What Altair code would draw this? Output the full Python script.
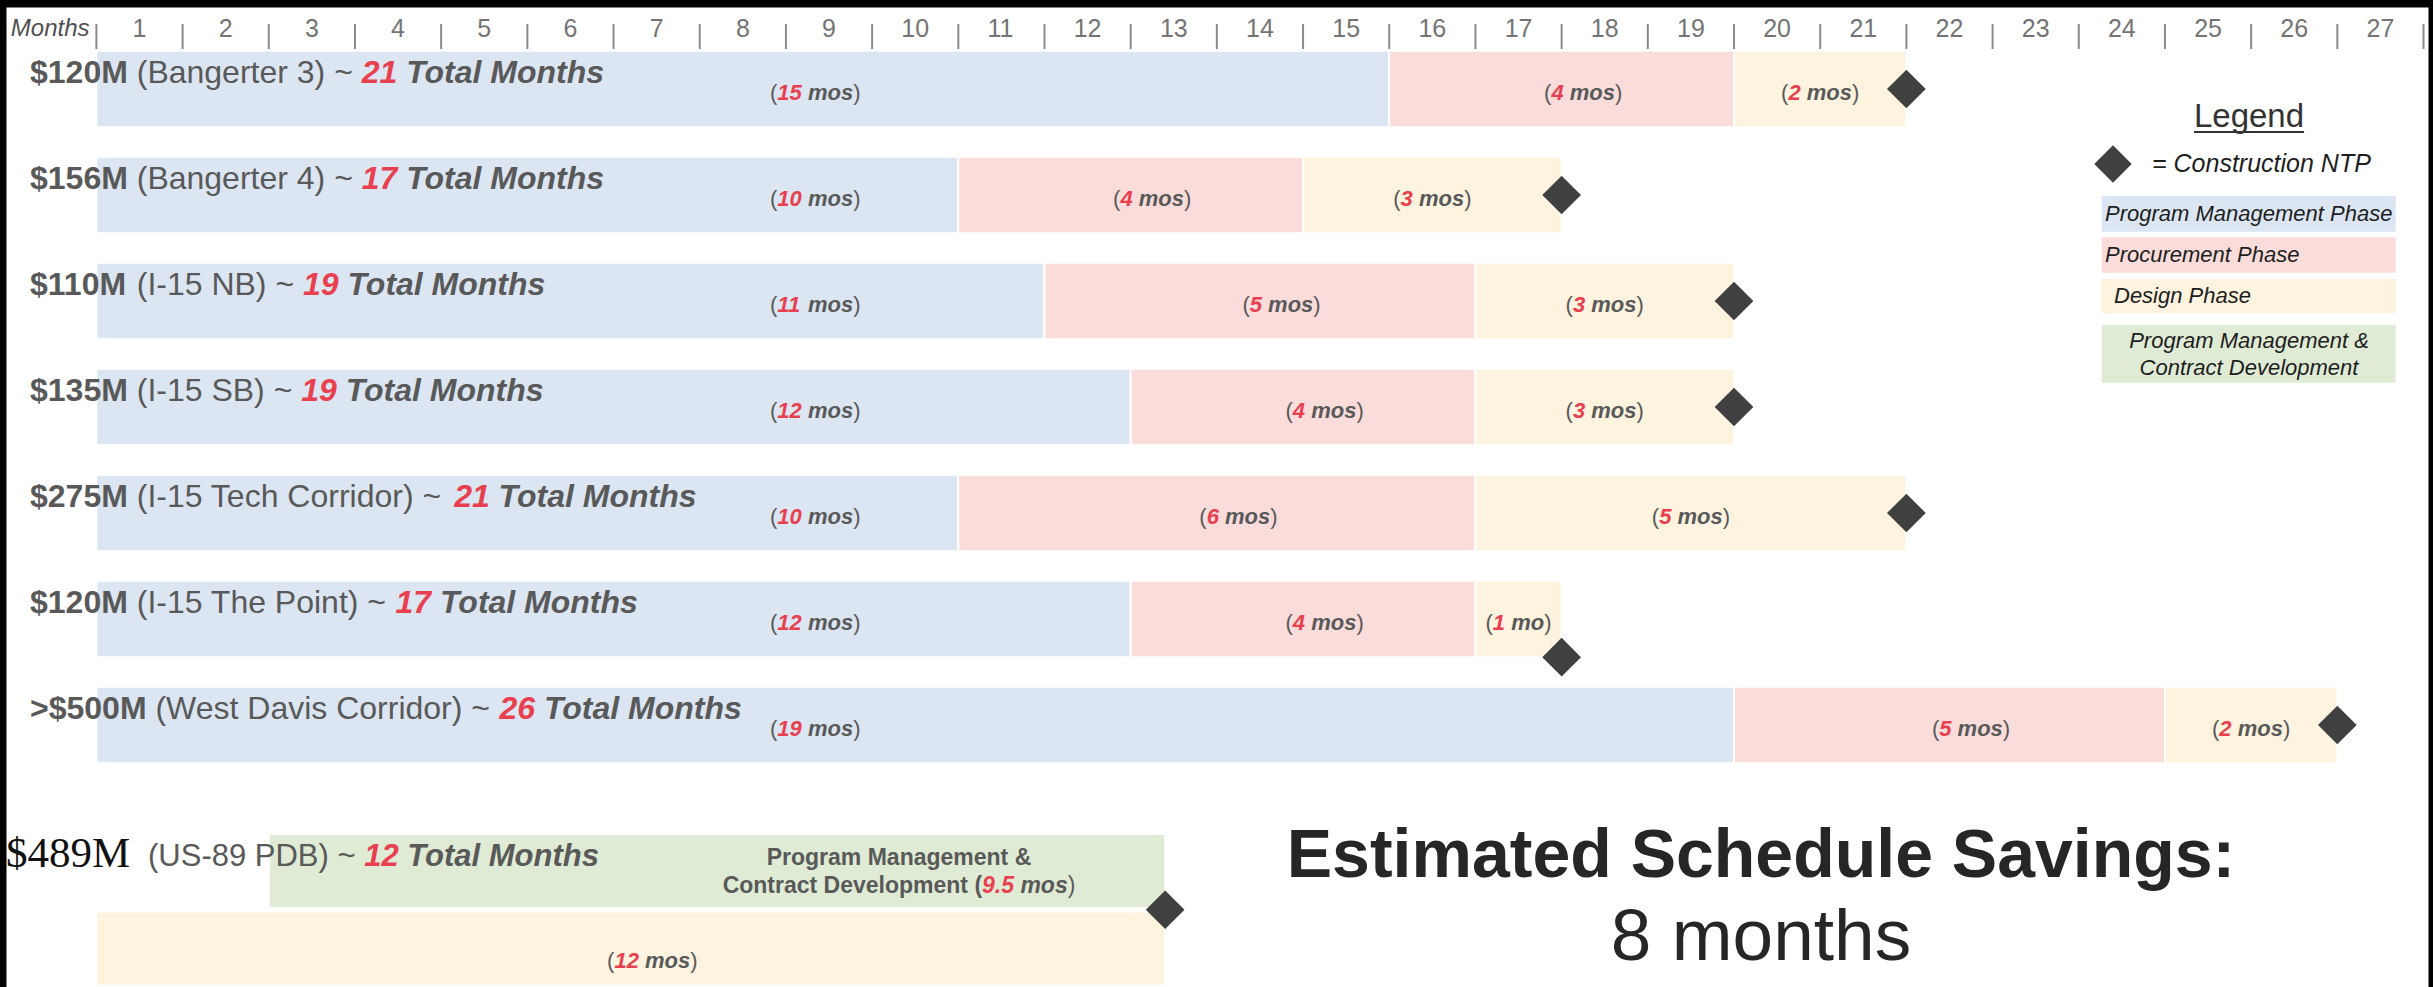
import altair as alt
import pandas as pd

# ---------------- data ----------------
costs = ["$120M", "$156M", "$110M", "$135M", "$275M", "$120M", ">$500M"]
names = ["(Bangerter 3)", "(Bangerter 4)", "(I-15 NB)", "(I-15 SB)",
         "(I-15 Tech Corridor)", "(I-15 The Point)", "(West Davis Corridor)"]
total_months = [21, 17, 19, 19, 21, 17, 26]
pm_months = [15, 10, 11, 12, 10, 12, 19]        # Program Management Phase
proc_months = [4, 4, 5, 4, 6, 4, 5]             # Procurement Phase
design_months = [2, 3, 3, 3, 5, 1, 2]           # Design Phase

pdb_cost = "$489M"
pdb_name = "(US-89 PDB)"
pdb_total = 12
pdb_green_span = [2.0, 12.4]      # Program Management & Contract Development
pdb_green_label = 9.5
pdb_yellow_span = [0.0, 12.4]     # Design
pdb_yellow_label = 12

month_ticks = list(range(0, 28))
month_labels = [str(m) for m in range(1, 28)]

phase_names = ["Program Management Phase", "Procurement Phase", "Design Phase",
               "Program Management &", "Contract Development"]
phase_colors = ["#dce6f2", "#fadcdb", "#fdf3df", "#e0ebd6"]

savings_title = "Estimated Schedule Savings:"
savings_value = "8 months"

# ---------------- styling / layout ----------------
RED = "#e8404f"
GRAY = "#595959"
AXGRAY = "#747474"
DARK = "#1e1e1e"
DIAMOND = "#404040"

W_PLOT, H_PLOT = 2422, 980
PAD = {"left": 6, "top": 7, "right": 5, "bottom": 0}
PPM = 86.19     # pixels per month
X0 = 90.4       # plot px of month 0
RPX = 106.0     # pixels per row
Y0 = 82.0       # plot px of the first row centre
HALF = 0.36     # half bar height in row units


def mx(px):
    return (px - PAD["left"] - X0) / PPM


def ry(py):
    return (py - PAD["top"] - Y0) / RPX


X_DOMAIN = [mx(PAD["left"]), mx(PAD["left"] + W_PLOT)]
Y_DOMAIN = [ry(PAD["top"]), ry(PAD["top"] + H_PLOT)]
xs = alt.Scale(domain=X_DOMAIN, nice=False, zero=False)
ys = alt.Scale(domain=Y_DOMAIN, nice=False, zero=False, reverse=True)

# Arial / Liberation Sans advance widths (1/1000 em)
REG = {' ': 278, '$': 556, '&': 667, '(': 333, ')': 333, '-': 333, '.': 278, ':': 278,
       '=': 584, '>': 584, '~': 584,
       'A': 667, 'B': 667, 'C': 722, 'D': 722, 'E': 667, 'F': 611, 'G': 778, 'H': 722,
       'I': 278, 'J': 500, 'K': 667, 'L': 556, 'M': 833, 'N': 722, 'O': 778, 'P': 667,
       'Q': 778, 'R': 722, 'S': 667, 'T': 611, 'U': 722, 'V': 667, 'W': 944, 'X': 667,
       'Y': 667, 'Z': 611,
       'a': 556, 'b': 556, 'c': 500, 'd': 556, 'e': 556, 'f': 278, 'g': 556, 'h': 556,
       'i': 222, 'j': 222, 'k': 500, 'l': 222, 'm': 833, 'n': 556, 'o': 556, 'p': 556,
       'q': 556, 'r': 333, 's': 500, 't': 278, 'u': 556, 'v': 500, 'w': 722, 'x': 500,
       'y': 500, 'z': 500}
BOLD = {' ': 278, '$': 556, '&': 722, '(': 333, ')': 333, '-': 333, '.': 278, ':': 333,
        '=': 584, '>': 584, '~': 584,
        'A': 722, 'B': 722, 'C': 722, 'D': 722, 'E': 667, 'F': 611, 'G': 778, 'H': 722,
        'I': 278, 'J': 556, 'K': 722, 'L': 611, 'M': 833, 'N': 722, 'O': 778, 'P': 667,
        'Q': 778, 'R': 722, 'S': 667, 'T': 611, 'U': 722, 'V': 667, 'W': 944, 'X': 667,
        'Y': 667, 'Z': 611,
        'a': 556, 'b': 611, 'c': 556, 'd': 611, 'e': 556, 'f': 333, 'g': 611, 'h': 611,
        'i': 278, 'j': 278, 'k': 556, 'l': 278, 'm': 889, 'n': 611, 'o': 611, 'p': 611,
        'q': 611, 'r': 389, 's': 556, 't': 333, 'u': 611, 'v': 556, 'w': 778, 'x': 556,
        'y': 556, 'z': 500}
TIMES = {'$': 500, 'M': 889, ' ': 250}


def text_w(s, style, size):
    if style == "serif":
        tbl, dflt = TIMES, 500
    elif style in ("bold", "bolditalic"):
        tbl, dflt = BOLD, 556
    else:
        tbl, dflt = REG, 556
    return sum(tbl.get(c, dflt) for c in s) * size / 1000.0


texts = []


def run(pieces, x, y, size, anchor="left"):
    widths = [text_w(t, st, size) for t, st, _ in pieces]
    total = sum(widths) / PPM
    if anchor == "center":
        cur = x - total / 2
    elif anchor == "right":
        cur = x - total
    else:
        cur = x
    for (t, st, col), w in zip(pieces, widths):
        lead = len(t) - len(t.lstrip(" "))
        shown = t.strip(" ")
        if shown:
            texts.append(dict(x=cur + text_w(" " * lead, st, size) / PPM, y=y,
                              text=shown, color=col, size=size, style=st))
        cur += w / PPM
    return total


def mos_label(n):
    unit = "mo" if n == 1 else "mos"
    return [("(", "regular", GRAY), (f"{n:g}", "bolditalic", RED),
            (" " + unit, "bolditalic", GRAY), (")", "regular", GRAY)]


# ---------------- bars, labels, diamonds ----------------
bars, diamonds = [], []
LBL = 22
for i in range(len(costs)):
    s1 = pm_months[i]
    s2 = s1 + proc_months[i]
    s3 = s2 + design_months[i]
    for a, b, c in [(0, s1, 0), (s1, s2, 1), (s2, s3, 2)]:
        bars.append(dict(x=a, x2=b, y=i - HALF, y2=i + HALF, fill=phase_colors[c]))
    # row title
    run([(costs[i], "bold", GRAY), (" " + names[i] + " ~ ", "regular", GRAY),
         (str(total_months[i]), "bolditalic", RED), (" Total Months", "bolditalic", GRAY)],
        mx(30), i - 6 / RPX, 32)
    # duration labels
    ly = i + 11 / RPX
    run(mos_label(pm_months[i]), mx(770), ly, LBL)
    run(mos_label(proc_months[i]), (s1 + s2) / 2 + 0.25, ly, LBL, "center")
    run(mos_label(design_months[i]), (s2 + s3) / 2, ly, LBL, "center")
    # construction NTP
    dy = HALF if design_months[i] < 2 else 0
    diamonds.append(dict(x=s3, y=i + dy))

# US-89 PDB rows
G_LANE, Y_LANE = ry(871), ry(948.5)
bars.append(dict(x=pdb_green_span[0], x2=pdb_green_span[1], y=G_LANE - 0.35,
                 y2=G_LANE + 0.35, fill=phase_colors[3]))
bars.append(dict(x=pdb_yellow_span[0], x2=pdb_yellow_span[1], y=Y_LANE - 0.35,
                 y2=Y_LANE + 0.35, fill=phase_colors[2]))
diamonds.append(dict(x=pdb_green_span[1], y=(G_LANE + Y_LANE) / 2))

run([(pdb_cost, "serif", "#111111")], mx(6), ry(867), 43)
run([(pdb_name + " ~ ", "regular", GRAY), (str(pdb_total), "bolditalic", RED),
     (" Total Months", "bolditalic", GRAY)], mx(148), ry(866), 31)
gx = mx(899)
run([("Program Management &", "bold", GRAY)], gx, ry(865), 23, "center")
run([("Contract Development (", "bold", GRAY), (f"{pdb_green_label:g}", "bolditalic", RED),
     (" mos", "bolditalic", GRAY), (")", "regular", GRAY)], gx, ry(892.7), 23, "center")
run(mos_label(pdb_yellow_label), (pdb_yellow_span[0] + pdb_yellow_span[1]) / 2 + 0.25,
    Y_LANE + 19 / RPX, LBL, "center")

# ---------------- month axis ----------------
for m, lab in zip(month_ticks[1:], month_labels):
    run([(lab, "regular", AXGRAY)], m - 0.5, ry(37), 25, "center")
run([("Months", "italic", "#505050")], mx(89.5), ry(36), 24, "right")
ticks = pd.DataFrame(dict(x=month_ticks, y=[ry(24)] * len(month_ticks),
                          y2=[ry(49)] * len(month_ticks)))

# ---------------- legend ----------------
legend_boxes = pd.DataFrame(dict(
    x=[mx(2101.7)] * 4, x2=[mx(2395.7)] * 4,
    y=[ry(196), ry(237.3), ry(279), ry(325)],
    y2=[ry(231.7), ry(272.7), ry(313.3), ry(382.7)],
    fill=phase_colors))
lw = run([("Legend", "regular", "#333333")], mx(2249), ry(126.7), 33, "center")
underline = pd.DataFrame(dict(x=[mx(2249) - lw / 2], x2=[mx(2249) + lw / 2], y=[ry(132)]))
diamonds_leg = pd.DataFrame(dict(x=[mx(2113)], y=[ry(164)]))
run([("= Construction NTP", "italic", DARK)], mx(2152), ry(172), 25)
run([(phase_names[0], "italic", DARK)], mx(2105), ry(221), 22)
run([(phase_names[1], "italic", DARK)], mx(2105), ry(262), 22)
run([(phase_names[2], "italic", DARK)], mx(2114), ry(303), 22)
run([(phase_names[3], "italic", DARK)], mx(2249), ry(348), 22, "center")
run([(phase_names[4], "italic", DARK)], mx(2249), ry(375), 22, "center")

# ---------------- savings text ----------------
sav = []
for t, st, size, by in [(savings_title, "bold", 68, 877), (savings_value, "regular", 73, 960)]:
    sav.append(dict(x=mx(1761), y=ry(by), text=t, size=size, style=st))
sav = pd.DataFrame(sav)

# ---------------- build layers ----------------
X = lambda f="x": alt.X(f"{f}:Q", scale=xs, axis=None)
Y = lambda f="y": alt.Y(f"{f}:Q", scale=ys, axis=None)

bar_layer = alt.Chart(pd.DataFrame(bars)).mark_rect(stroke="white", strokeWidth=2).encode(
    x=X(), x2="x2:Q", y=Y(), y2="y2:Q", fill=alt.Fill("fill:N", scale=None))
legend_box_layer = alt.Chart(legend_boxes).mark_rect().encode(
    x=X(), x2="x2:Q", y=Y(), y2="y2:Q", fill=alt.Fill("fill:N", scale=None))
tick_layer = alt.Chart(ticks).mark_rule(color="#8a8a8a", strokeWidth=2).encode(
    x=X(), y=Y(), y2="y2:Q")
underline_layer = alt.Chart(underline).mark_rule(color="#333333", strokeWidth=2).encode(
    x=X(), x2="x2:Q", y=Y())
diamond_layer = alt.Chart(pd.DataFrame(diamonds)).mark_point(
    shape="diamond", filled=True, size=1500, color=DIAMOND, opacity=1).encode(x=X(), y=Y())
diamond_leg_layer = alt.Chart(diamonds_leg).mark_point(
    shape="diamond", filled=True, size=1400, color=DIAMOND, opacity=1).encode(x=X(), y=Y())

tdf = pd.DataFrame(texts)
STYLES = {
    "regular": dict(font="Liberation Sans"),
    "bold": dict(font="Liberation Sans", fontWeight="bold"),
    "bolditalic": dict(font="Liberation Sans", fontWeight="bold", fontStyle="italic"),
    "italic": dict(font="Liberation Sans", fontStyle="italic"),
    "serif": dict(font="Liberation Serif"),
}
text_layers = []
for st, props in STYLES.items():
    sub = tdf[tdf["style"] == st]
    if len(sub) == 0:
        continue
    text_layers.append(
        alt.Chart(sub).mark_text(align="left", baseline="alphabetic", **props).encode(
            x=X(), y=Y(), text="text:N",
            color=alt.Color("color:N", scale=None),
            size=alt.Size("size:Q", scale=None)))

sav_layers = []
for st in ["bold", "regular"]:
    sub = sav[sav["style"] == st]
    props = STYLES[st]
    sav_layers.append(
        alt.Chart(sub).mark_text(align="center", baseline="alphabetic", color="#262626",
                                 **props).encode(
            x=X(), y=Y(), text="text:N", size=alt.Size("size:Q", scale=None)))

chart = alt.layer(
    bar_layer, legend_box_layer, tick_layer, underline_layer,
    *text_layers, *sav_layers, diamond_layer, diamond_leg_layer
).properties(
    width=W_PLOT, height=H_PLOT, padding=PAD, background="black",
    autosize=alt.AutoSizeParams(type="none")
).configure_view(fill="white", stroke="transparent")

chart.save("out.html", embed_options={"renderer": "svg", "actions": False})
